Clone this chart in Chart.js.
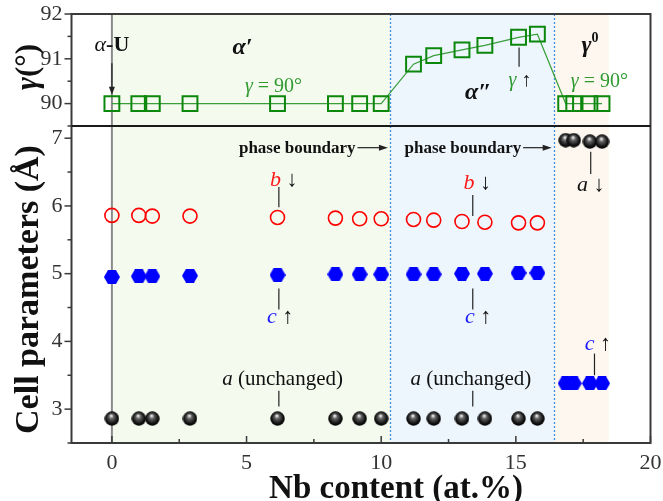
<!DOCTYPE html>
<html lang="en">
<head>
<meta charset="UTF-8">
<title>Cell parameters vs Nb content</title>
<script src="https://cdn.jsdelivr.net/npm/chart.js@4.4.0/dist/chart.umd.min.js"></script>
<style>body{margin:0;background:#fff}</style>
</head>
<body>
<canvas id="chart" width="663" height="501"></canvas>
<script>
// Nb content (at.%) of each sample
const nbContent = [0, 1.0, 1.5, 2.9, 6.15, 8.3, 9.2, 10.0, 11.2, 11.95, 13.0, 13.85, 15.1, 15.8, 16.85, 17.15, 17.75, 18.2];
// monoclinic angle gamma (deg)
const gammaDeg = [90, 90, 90, 90, 90, 90, 90, 90, 90.88, 91.07, 91.2, 91.3, 91.48, 91.55, 90, 90, 90, 90];
// lattice parameters (Angstrom), b not given for the gamma0 samples
const paramA = [2.86, 2.86, 2.86, 2.86, 2.86, 2.86, 2.86, 2.86, 2.86, 2.86, 2.86, 2.86, 2.86, 2.86, 6.97, 6.97, 6.95, 6.95];
const paramB = [5.86, 5.86, 5.85, 5.85, 5.83, 5.82, 5.81, 5.81, 5.80, 5.79, 5.77, 5.76, 5.75, 5.75, null, null, null, null];
const paramC = [4.95, 4.96, 4.96, 4.97, 4.98, 4.99, 4.99, 4.99, 4.99, 4.99, 5.0, 5.0, 5.01, 5.01, 3.38, 3.38, 3.38, 3.38];
// phase regions along Nb content
const phaseFrom = [0, 10.34, 16.42];
const phaseTo = [10.34, 16.42, 18.45];
const phaseFill = ['#f5faef', '#edf5fd', '#fdf7f0'];
// tick values
const xMajor = [0, 5, 10, 15, 20];
const xMinor = [2.5, 7.5, 12.5, 17.5];
const topMajor = [90, 91, 92], topMinor = [89.5, 90.5, 91.5];
const botMajor = [3, 4, 5, 6, 7], botMinor = [2.5, 3.5, 4.5, 5.5, 6.5];

const serif = '"Liberation Serif", "Times New Roman", serif';
const F = {
    it: s => `italic ${s}px ${serif}`,
    bd: s => `bold ${s}px ${serif}`,
    bi: s => `italic bold ${s}px ${serif}`,
    rg: s => `${s}px ${serif}`
};
const GREEN_TXT = '#2f9a2f', RED = '#ff1a1a', BLUE = '#1a1aff', INK = '#111';

// text labels (x in Nb at.%, y in the axis units of the panel)
const notes = [
    {ax: 'yTop', x: 0, y: 91.3, parts: [['α', F.it(22)], ['-U', F.bd(22)]]},
    {ax: 'yTop', x: 4.85, y: 91.25, parts: [['α′', F.bi(24)]]},
    {ax: 'yTop', x: 6.0, y: 90.38, parts: [['γ', F.it(20), GREEN_TXT], [' = 90°', F.rg(20), GREEN_TXT]]},
    {ax: 'yTop', x: 13.6, y: 90.25, parts: [['α″', F.bi(24)]]},
    {ax: 'yTop', x: 15.15, y: 90.52, parts: [['γ', F.it(20), GREEN_TXT], [' ↑', F.rg(20)]]},
    {ax: 'yTop', x: 17.75, y: 91.3, parts: [['γ', F.bi(24)], ['0', F.bd(14), INK, -7]]},
    {ax: 'yTop', x: 18.1, y: 90.48, parts: [['γ', F.it(20), GREEN_TXT], [' = 90°', F.rg(20), GREEN_TXT]]},
    {ax: 'yBot', x: 9.05, y: 6.85, align: 'right', parts: [['phase boundary', F.bd(17)]]},
    {ax: 'yBot', x: 15.2, y: 6.85, align: 'right', parts: [['phase boundary', F.bd(17)]]},
    {ax: 'yBot', x: 6.38, y: 6.38, parts: [['b', F.it(22), RED], [' ↓', F.rg(22)]]},
    {ax: 'yBot', x: 13.57, y: 6.33, parts: [['b', F.it(22), RED], [' ↓', F.rg(22)]]},
    {ax: 'yBot', x: 6.25, y: 4.35, parts: [['c', F.it(22), BLUE], [' ↑', F.rg(22)]]},
    {ax: 'yBot', x: 13.6, y: 4.35, parts: [['c', F.it(22), BLUE], [' ↑', F.rg(22)]]},
    {ax: 'yBot', x: 18.05, y: 3.96, parts: [['c', F.it(22), BLUE], [' ↑', F.rg(22)]]},
    {ax: 'yBot', x: 6.34, y: 3.44, parts: [['a', F.it(21)], [' (unchanged)', F.rg(21)]]},
    {ax: 'yBot', x: 13.33, y: 3.44, parts: [['a', F.it(21)], [' (unchanged)', F.rg(21)]]},
    {ax: 'yBot', x: 17.78, y: 6.31, parts: [['a', F.it(22)], [' ↓', F.rg(22)]]}
];
// short vertical pointer lines
const leaders = [
    {ax: 'yTop', x: 0, y1: 90.9, y2: 90.2, head: true},
    {ax: 'yTop', x: 15.12, y1: 91.25, y2: 90.82},
    {ax: 'yBot', x: 6.2, y1: 6.28, y2: 5.98},
    {ax: 'yBot', x: 13.4, y1: 6.16, y2: 5.85},
    {ax: 'yBot', x: 6.2, y1: 4.78, y2: 4.47},
    {ax: 'yBot', x: 13.4, y1: 4.78, y2: 4.47},
    {ax: 'yBot', x: 17.92, y1: 3.82, y2: 3.5},
    {ax: 'yBot', x: 6.2, y1: 3.27, y2: 3.04},
    {ax: 'yBot', x: 13.4, y1: 3.27, y2: 3.04},
    {ax: 'yBot', x: 17.78, y1: 6.8, y2: 6.47}
];
// "phase boundary" arrows
const hArrows = [
    {ax: 'yBot', y: 6.86, x1: 9.12, x2: 10.25},
    {ax: 'yBot', y: 6.86, x1: 15.27, x2: 16.33}
];

function makeBall(d) {
    const c = document.createElement('canvas');
    c.width = c.height = d;
    const g = c.getContext('2d');
    const r = d / 2;
    const grad = g.createRadialGradient(r * 0.9, r * 0.6, r * 0.05, r, r, r);
    grad.addColorStop(0, '#f2f2f2');
    grad.addColorStop(0.3, '#606060');
    grad.addColorStop(0.75, '#111');
    grad.addColorStop(1, '#000');
    g.fillStyle = grad;
    g.beginPath();
    g.arc(r, r, r - 0.3, 0, Math.PI * 2);
    g.fill();
    return c;
}

function makeHex(w, h, color) {
    const c = document.createElement('canvas');
    c.width = w;
    c.height = h;
    const g = c.getContext('2d');
    g.fillStyle = color;
    g.beginPath();
    g.moveTo(0, h / 2);
    g.lineTo(w / 4, 0);
    g.lineTo(3 * w / 4, 0);
    g.lineTo(w, h / 2);
    g.lineTo(3 * w / 4, h);
    g.lineTo(w / 4, h);
    g.closePath();
    g.fill();
    return c;
}

function pts(arr) {
    return nbContent.map((x, i) => ({x: x, y: arr[i]})).filter(p => p.y !== null);
}

function drawRuns(ctx, parts, x, y, align) {
    let w = 0;
    const sized = parts.map(p => {
        ctx.font = p[1];
        const pw = ctx.measureText(p[0]).width;
        w += pw;
        return {t: p[0], f: p[1], c: p[2] || INK, dy: p[3] || 0, w: pw};
    });
    let cx = align === 'right' ? x - w : (align === 'left' ? x : x - w / 2);
    sized.forEach(p => {
        ctx.font = p.f;
        ctx.fillStyle = p.c;
        ctx.fillText(p.t, cx, y + p.dy);
        cx += p.w;
    });
}

const decor = {
    id: 'decor',
    beforeDatasetsDraw(chart) {
        const ctx = chart.ctx, a = chart.chartArea, xs = chart.scales.x;
        ctx.save();
        for (let i = 0; i < phaseFrom.length; i++) {
            const x1 = xs.getPixelForValue(phaseFrom[i]), x2 = xs.getPixelForValue(phaseTo[i]);
            ctx.fillStyle = phaseFill[i];
            ctx.fillRect(x1, a.top, x2 - x1, a.bottom - a.top);
        }
        // alpha-U reference line
        ctx.strokeStyle = '#8a8a8a';
        ctx.lineWidth = 2;
        ctx.beginPath();
        ctx.moveTo(xs.getPixelForValue(0), a.top);
        ctx.lineTo(xs.getPixelForValue(0), a.bottom);
        ctx.stroke();
        // phase boundaries
        ctx.strokeStyle = '#3d8fe0';
        ctx.lineWidth = 1.3;
        ctx.setLineDash([2, 2]);
        [phaseTo[0], phaseTo[1]].forEach(v => {
            const px = Math.round(xs.getPixelForValue(v)) + 0.5;
            ctx.beginPath();
            ctx.moveTo(px, a.top);
            ctx.lineTo(px, a.bottom);
            ctx.stroke();
        });
        ctx.restore();
    },
    afterDatasetsDraw(chart) {
        const ctx = chart.ctx, a = chart.chartArea, xs = chart.scales.x;
        const yT = chart.scales.yTop, yB = chart.scales.yBot;
        ctx.save();
        ctx.textBaseline = 'middle';
        notes.forEach(n => {
            const ys = chart.scales[n.ax];
            drawRuns(ctx, n.parts, xs.getPixelForValue(n.x), ys.getPixelForValue(n.y), n.align);
        });
        ctx.strokeStyle = '#222';
        ctx.fillStyle = '#222';
        ctx.lineWidth = 1.2;
        leaders.forEach(l => {
            const ys = chart.scales[l.ax];
            const px = xs.getPixelForValue(l.x), p1 = ys.getPixelForValue(l.y1), p2 = ys.getPixelForValue(l.y2);
            ctx.beginPath();
            ctx.moveTo(px, p1);
            ctx.lineTo(px, l.head ? p2 - 6 : p2);
            ctx.stroke();
            if (l.head) {
                ctx.beginPath();
                ctx.moveTo(px, p2);
                ctx.lineTo(px - 3, p2 - 8);
                ctx.lineTo(px + 3, p2 - 8);
                ctx.closePath();
                ctx.fill();
            }
        });
        hArrows.forEach(h => {
            const ys = chart.scales[h.ax];
            const py = ys.getPixelForValue(h.y), x1 = xs.getPixelForValue(h.x1), x2 = xs.getPixelForValue(h.x2);
            ctx.beginPath();
            ctx.moveTo(x1, py);
            ctx.lineTo(x2 - 6, py);
            ctx.stroke();
            ctx.beginPath();
            ctx.moveTo(x2, py);
            ctx.lineTo(x2 - 9, py - 3);
            ctx.lineTo(x2 - 9, py + 3);
            ctx.closePath();
            ctx.fill();
        });
        // frame and panel separator
        ctx.strokeStyle = '#3a3a3a';
        ctx.lineWidth = 2;
        ctx.strokeRect(a.left, a.top, a.right - a.left, a.bottom - a.top);
        ctx.strokeStyle = '#1a1a1a';
        ctx.beginPath();
        ctx.moveTo(a.left, yT.bottom);
        ctx.lineTo(a.right, yT.bottom);
        ctx.stroke();
        // tick marks: y outward, x inward
        ctx.lineWidth = 1.5;
        ctx.strokeStyle = '#3a3a3a';
        const yTick = (ys, vals, len) => vals.forEach(v => {
            const py = ys.getPixelForValue(v);
            ctx.beginPath();
            ctx.moveTo(a.left, py);
            ctx.lineTo(a.left - len, py);
            ctx.stroke();
        });
        yTick(yT, topMajor, 7);
        yTick(yT, topMinor, 4);
        yTick(yB, botMajor, 7);
        yTick(yB, botMinor, 4);
        const xTick = (vals, len) => vals.forEach(v => {
            const px = xs.getPixelForValue(v);
            ctx.beginPath();
            ctx.moveTo(px, a.bottom);
            ctx.lineTo(px, a.bottom - len);
            ctx.stroke();
        });
        xTick(xMajor, 7);
        xTick(xMinor, 4);
        // axis titles
        ctx.fillStyle = INK;
        drawRuns(ctx, [['Nb content (at.%)', F.bd(33)]], xs.getPixelForValue(10.55), 489);
        ctx.save();
        ctx.translate(29, (yT.top + yT.bottom) / 2 - 3);
        ctx.rotate(-Math.PI / 2);
        drawRuns(ctx, [['γ', F.bi(31)], ['(°)', F.bd(31)]], 0, 0);
        ctx.restore();
        ctx.save();
        ctx.translate(29, (yB.top + yB.bottom) / 2 + 5);
        ctx.rotate(-Math.PI / 2);
        drawRuns(ctx, [['Cell parameters (Å)', F.bd(34)]], 0, 0);
        ctx.restore();
        ctx.restore();
    }
};

const tickFont = {family: serif, size: 22};
const intOnly = v => Number.isInteger(v) ? v : '';
const noPad = s => { s.paddingTop = 0; s.paddingBottom = 0; s.paddingLeft = 0; s.paddingRight = 0; };

new Chart(document.getElementById('chart'), {
    type: 'scatter',
    data: {
        datasets: [
            {
                label: 'gamma', data: pts(gammaDeg), yAxisID: 'yTop', showLine: true,
                borderColor: '#3a9e3a', borderWidth: 1.2,
                pointStyle: 'rect', pointRadius: 10.5, pointBorderWidth: 2,
                pointBorderColor: '#0b870b', pointBackgroundColor: 'rgba(0,0,0,0)'
            },
            {
                label: 'b', data: pts(paramB), yAxisID: 'yBot',
                pointStyle: 'circle', pointRadius: 7, pointBorderWidth: 1.6,
                pointBorderColor: '#ff0000', pointBackgroundColor: 'rgba(0,0,0,0)'
            },
            {label: 'c', data: pts(paramC), yAxisID: 'yBot', pointStyle: makeHex(16, 14, '#0000ff'), pointRadius: 5},
            {label: 'a', data: pts(paramA), yAxisID: 'yBot', pointStyle: makeBall(15), pointRadius: 5}
        ]
    },
    options: {
        responsive: false,
        animation: false,
        devicePixelRatio: 1,
        layout: {padding: {top: 14, right: 11, bottom: 0, left: 0}},
        plugins: {legend: {display: false}, tooltip: {enabled: false}},
        scales: {
            x: {
                type: 'linear', min: -1.5, max: 20,
                afterFit: s => { noPad(s); s.height = 58; },
                grid: {display: false, drawTicks: false},
                border: {display: false},
                ticks: {stepSize: 5, includeBounds: false, autoSkip: false, maxRotation: 0,
                    font: tickFont, color: '#333', padding: 7}
            },
            yBot: {
                type: 'linear', position: 'left', stack: 'panels', stackWeight: 317,
                min: 2.5, max: 7.18,
                afterFit: s => { noPad(s); s.width = 71.5; },
                grid: {display: false, drawTicks: false},
                border: {display: false},
                ticks: {stepSize: 1, includeBounds: false, autoSkip: false,
                    font: tickFont, color: '#333', padding: 9, callback: intOnly}
            },
            yTop: {
                type: 'linear', position: 'left', stack: 'panels', stackWeight: 112,
                min: 89.5, max: 92,
                afterFit: s => { noPad(s); s.width = 71.5; },
                grid: {display: false, drawTicks: false},
                border: {display: false},
                ticks: {stepSize: 1, includeBounds: false, autoSkip: false,
                    font: tickFont, color: '#333', padding: 9, callback: intOnly}
            }
        }
    },
    plugins: [decor]
});
</script>
</body>
</html>
